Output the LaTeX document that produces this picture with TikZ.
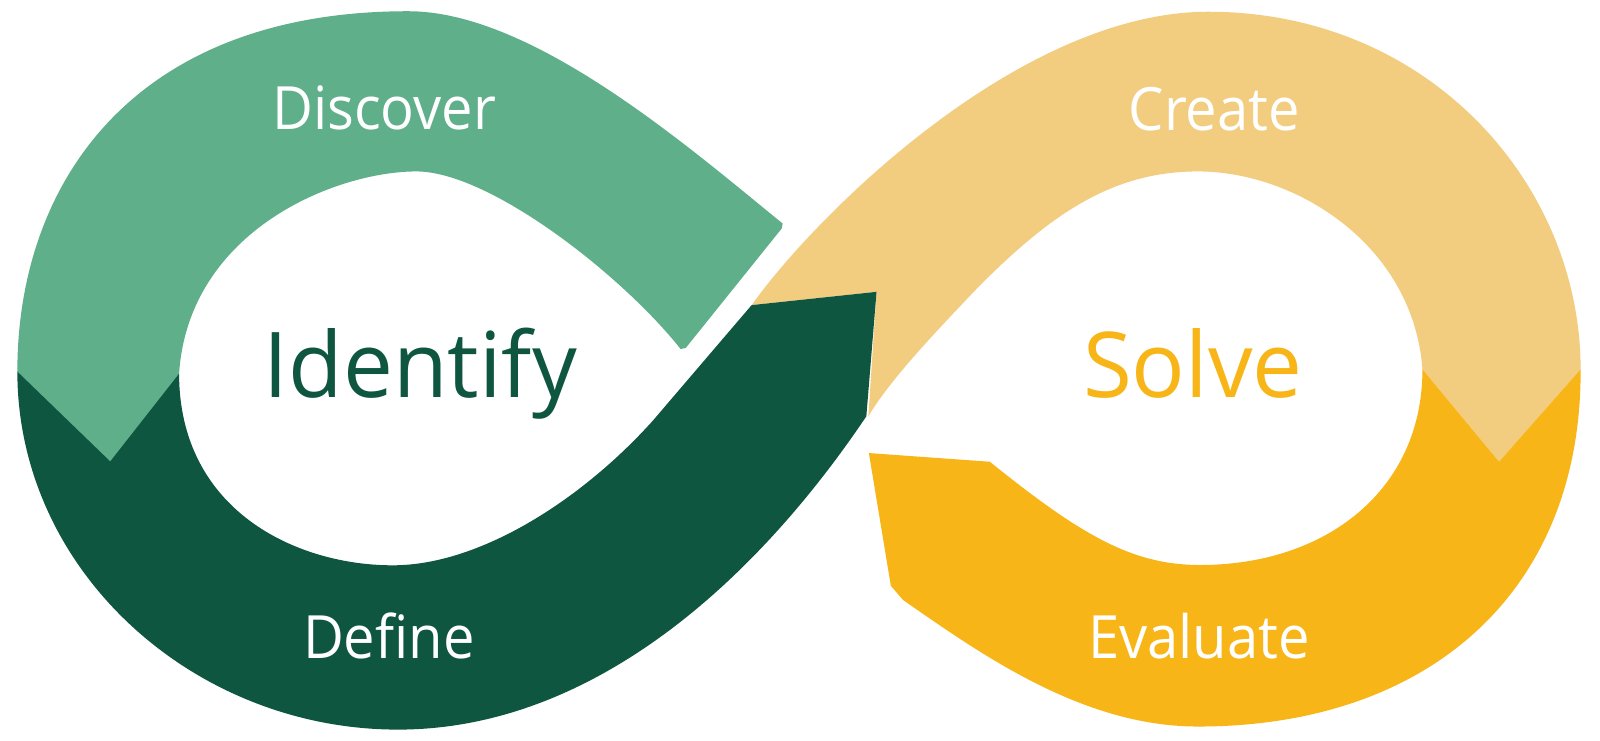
\documentclass[tikz,border=0pt]{standalone}
\usepackage{graphicx}
\usepackage{fontspec}
\setmainfont{Open Sans}
\definecolor{lgreen}{HTML}{5EAF8A}
\definecolor{dgreen}{HTML}{0F5641}
\definecolor{lyellow}{HTML}{F2CD80}
\definecolor{dyellow}{HTML}{F8B517}
\begin{document}
\begin{tikzpicture}[x=1pt,y=-1pt,
  band/.style={line join=round},
  lbl/.style={text=white,font=\fontsize{58.5}{70}\selectfont,anchor=base,inner sep=0pt},
  big/.style={font=\fontsize{89}{100}\selectfont,anchor=base,inner sep=0pt}]
\useasboundingbox (0,0) rectangle (1568,726);
\fill[white] (0,0) rectangle (1568,726);
% light yellow (Create)
\fill[band,lyellow] (736.6,299) .. controls (800,210) and (1000,11.5) .. (1184,11.5)
  .. controls (1400,11.5) and (1549,180) .. (1549,362)
  -- (1469,452.5) -- (1394,362)
  .. controls (1385,240) and (1270,168) .. (1174,168)
  .. controls (1090,168) and (1030,210) .. (960,280)
  .. controls (920,322) and (872,372) .. (851,408)
  -- (859,286) -- cycle;
% dark yellow (Evaluate)
\fill[band,dyellow] (851.5,444) -- (970,452.5)
  .. controls (1060,525) and (1110,553.7) .. (1176,553.7)
  .. controls (1300,553.7) and (1394,480) .. (1394,362)
  -- (1469,452.5) -- (1549,362)
  .. controls (1550,580) and (1400,712) .. (1174,712)
  .. controls (1060,712) and (960,640) .. (885,588)
  -- (873,574) -- cycle;
% dark green (Define)
\fill[band,dgreen] (17,364) .. controls (17,560) and (190,715) .. (390,715)
  .. controls (580,715) and (740,570) .. (849,408)
  -- (859,286) -- (736.6,299) -- (640,412)
  .. controls (570,490) and (470,554) .. (385,554)
  .. controls (290,554) and (175.5,500) .. (175.5,366)
  -- cycle;
% light green (Discover)
\fill[band,lgreen] (17,364) .. controls (17,180) and (130,11) .. (400,11)
  .. controls (520,11) and (670,140) .. (762,215)
  -- (767,219) -- (766,224) -- (672,341) -- (667,342)
  .. controls (610,270) and (480,168) .. (408,168)
  .. controls (330,168) and (185,225) .. (175.5,366)
  -- (108,452) -- cycle;
% labels
\node[lbl] (discover) at (376.5,127) {\scalebox{0.94}[1]{Discover}};
\node[lbl] (create) at (1190,128) {\scalebox{0.94}[1]{Create}};
\node[lbl] (define) at (381,645) {\scalebox{0.94}[1]{Define}};
\node[lbl] (evaluate) at (1175,645) {\scalebox{0.94}[1]{Evaluate}};
\node[big,text=dgreen] (identify) at (412,390) {\scalebox{0.98}[1]{Identify}};
\node[big,text=dyellow] (solve) at (1169,390) {\scalebox{0.98}[1]{Solve}};
\end{tikzpicture}
\end{document}
